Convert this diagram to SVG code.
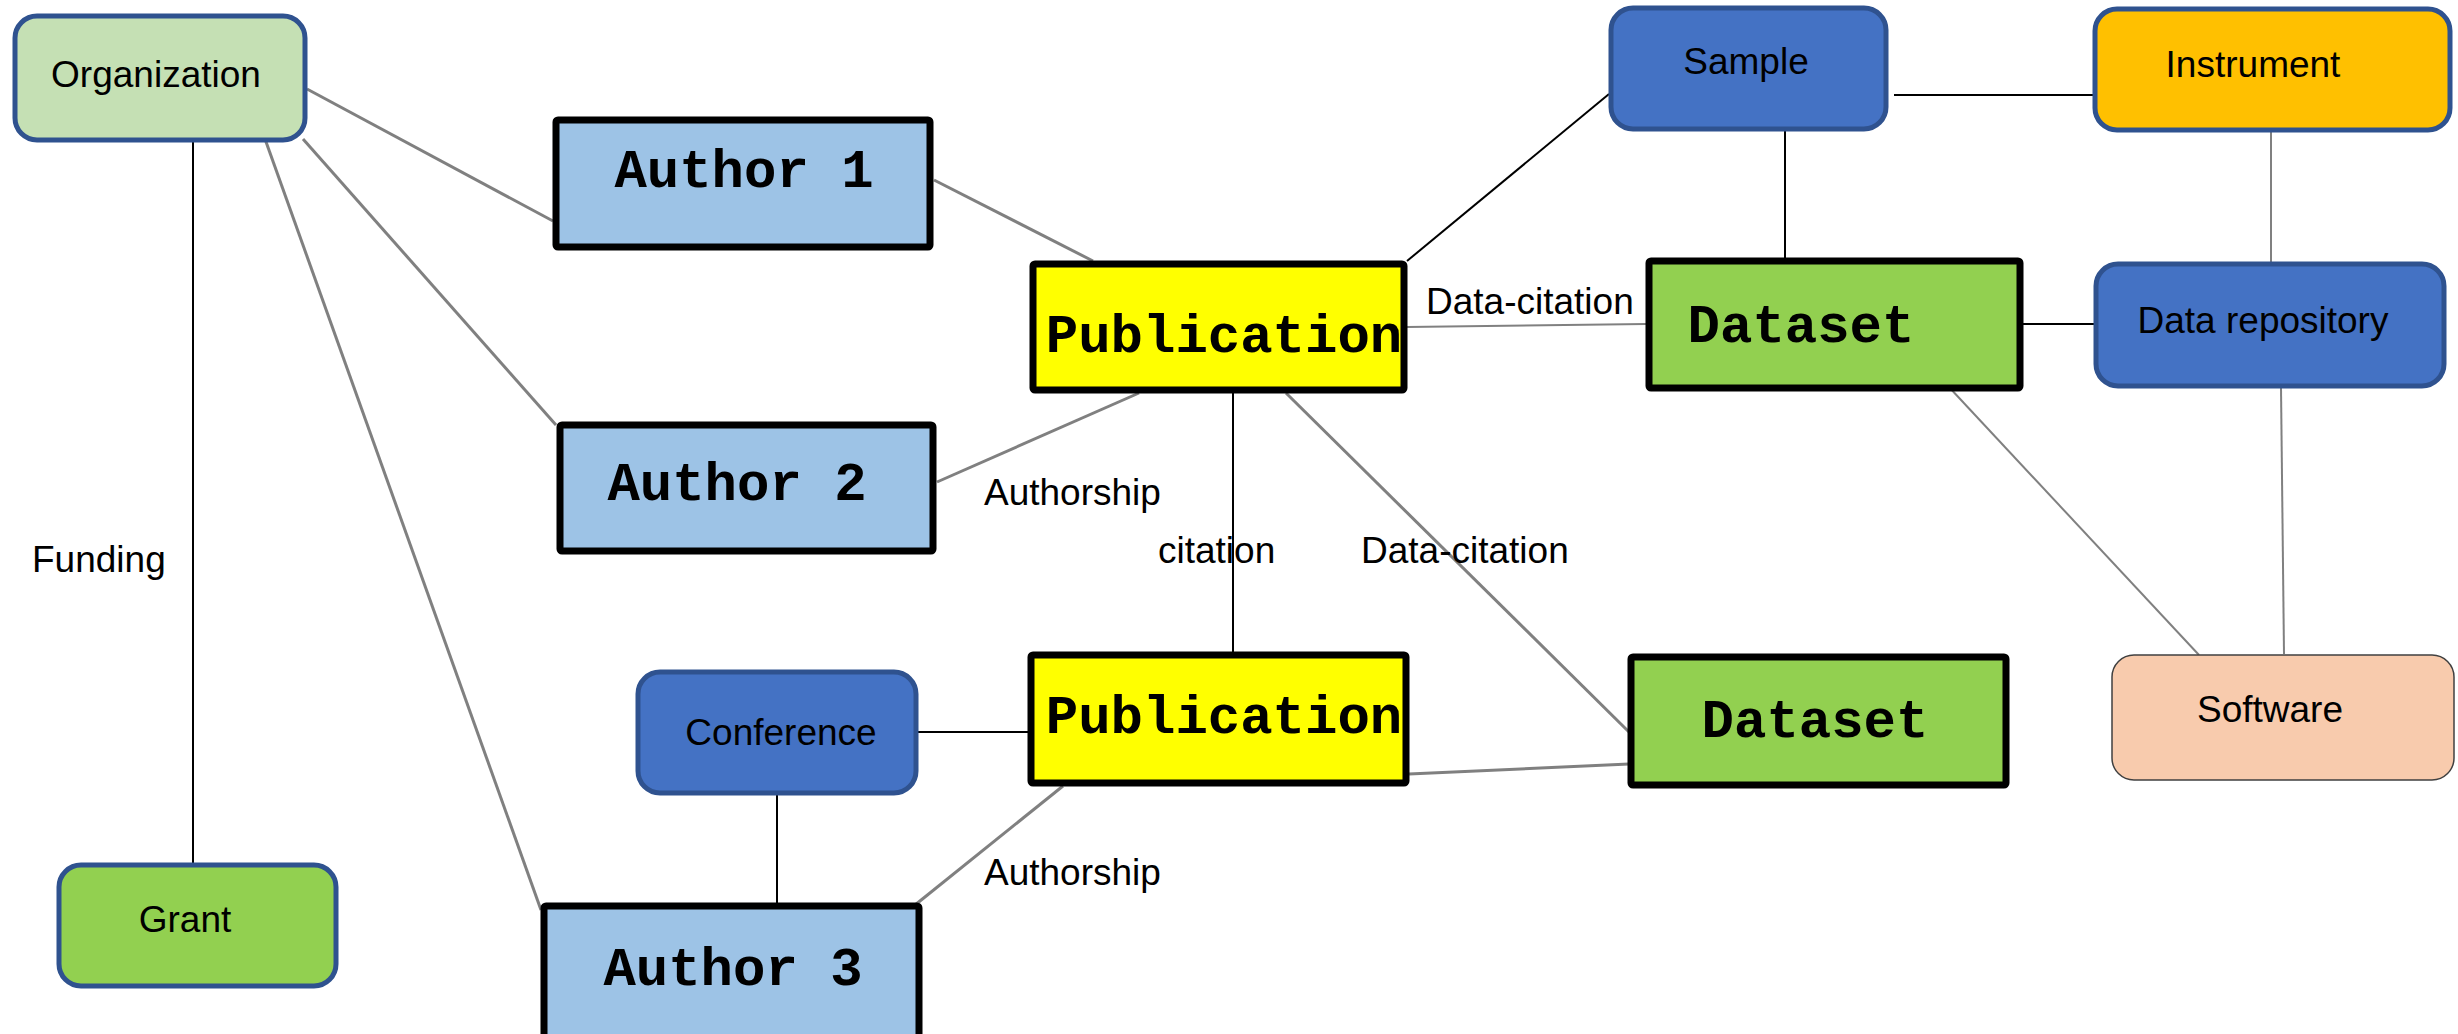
<svg xmlns="http://www.w3.org/2000/svg" width="2458" height="1034" viewBox="0 0 2458 1034">
<style>
.rn{stroke:#2F528F;stroke-width:5}
.bx{stroke:#000;stroke-width:7}
.sans{font-family:"Liberation Sans",Arial,sans-serif;font-size:37px;fill:#000}
.mono{font-family:"Liberation Mono","Courier New",monospace;font-weight:bold;font-size:54px;fill:#000}
.g{stroke:#808080;stroke-width:3;fill:none}
.gt{stroke:#808080;stroke-width:2;fill:none}
.k{stroke:#000;stroke-width:2;fill:none}
</style>
<rect width="2458" height="1034" fill="#fff"/>
<g id="connectors">
<line class="g" x1="307" y1="89" x2="553" y2="221"/>
<line class="g" x1="303" y1="139" x2="556" y2="425"/>
<line class="g" x1="265" y1="139" x2="541" y2="910"/>
<line class="k" x1="193" y1="142" x2="193" y2="863"/>
<line class="g" x1="934" y1="180" x2="1093" y2="261"/>
<line class="g" x1="937" y1="482" x2="1139" y2="393"/>
<line class="k" x1="1407" y1="261" x2="1609" y2="94"/>
<line class="gt" x1="1407" y1="327" x2="1646" y2="324"/>
<line class="k" x1="1894" y1="95" x2="2093" y2="95" stroke-width="3"/>
<line class="k" x1="1785" y1="128" x2="1785" y2="258"/>
<line class="gt" x1="2271" y1="132" x2="2271" y2="262"/>
<line class="k" x1="2023" y1="324" x2="2094" y2="324" stroke-width="3"/>
<line class="gt" x1="1948" y1="386" x2="2199" y2="655"/>
<line class="gt" x1="2281" y1="388" x2="2284" y2="654"/>
<line class="k" x1="1233" y1="393" x2="1233" y2="652"/>
<line class="g" x1="1286" y1="393" x2="1629" y2="732"/>
<line class="g" x1="1409" y1="774" x2="1629" y2="764" stroke-width="4"/>
<line class="k" x1="918" y1="732" x2="1028" y2="732"/>
<line class="k" x1="777" y1="795" x2="777" y2="903"/>
<line class="g" x1="915" y1="905" x2="1063" y2="786"/>
<text class="sans" x="32" y="572">Funding</text>
<text class="sans" x="984" y="505">Authorship</text>
<text class="sans" x="984" y="885">Authorship</text>
<text class="sans" x="1158" y="563">citation</text>
<text class="sans" x="1361" y="563">Data-citation</text>
<text class="sans" x="1426" y="314">Data-citation</text>
</g>
<g id="organization">
<rect class="rn" x="15" y="16" width="290" height="124" rx="22" fill="#C5E0B4"/>
<text class="sans" x="156" y="87" text-anchor="middle">Organization</text>
</g>
<g id="grant">
<rect class="rn" x="59" y="865" width="277" height="121" rx="22" fill="#92D050"/>
<text class="sans" x="185" y="932" text-anchor="middle">Grant</text>
</g>
<g id="author1">
<rect class="bx" x="556" y="120" width="374" height="127" rx="2" fill="#9DC3E6"/>
<text class="mono" x="744" y="187" text-anchor="middle">Author 1</text>
</g>
<g id="author2">
<rect class="bx" x="560" y="425" width="373" height="126" rx="2" fill="#9DC3E6"/>
<text class="mono" x="737" y="500" text-anchor="middle">Author 2</text>
</g>
<g id="author3">
<rect class="bx" x="544" y="906" width="375" height="134" rx="2" fill="#9DC3E6"/>
<text class="mono" x="733" y="985" text-anchor="middle">Author 3</text>
</g>
<g id="conference">
<rect class="rn" x="638" y="672" width="278" height="121" rx="22" fill="#4472C4"/>
<text class="sans" x="781" y="745" text-anchor="middle">Conference</text>
</g>
<g id="publication1">
<rect class="bx" x="1033" y="264" width="371" height="126" rx="2" fill="#FFFF00"/>
<text class="mono" x="1224" y="352" text-anchor="middle">Publication</text>
</g>
<g id="publication2">
<rect class="bx" x="1031" y="655" width="375" height="128" rx="2" fill="#FFFF00"/>
<text class="mono" x="1224" y="733" text-anchor="middle">Publication</text>
</g>
<g id="dataset1">
<rect class="bx" x="1649" y="261" width="371" height="127" rx="2" fill="#92D050"/>
<text class="mono" x="1801" y="342" text-anchor="middle">Dataset</text>
</g>
<g id="dataset2">
<rect class="bx" x="1631" y="657" width="375" height="128" rx="2" fill="#92D050"/>
<text class="mono" x="1815" y="737" text-anchor="middle">Dataset</text>
</g>
<g id="sample">
<rect class="rn" x="1611" y="8" width="275" height="121" rx="22" fill="#4472C4"/>
<text class="sans" x="1746" y="74" text-anchor="middle">Sample</text>
</g>
<g id="instrument">
<rect class="rn" x="2095" y="9" width="355" height="121" rx="22" fill="#FFC000"/>
<text class="sans" x="2253" y="77" text-anchor="middle">Instrument</text>
</g>
<g id="datarepository">
<rect class="rn" x="2096" y="264" width="348" height="122" rx="22" fill="#4472C4"/>
<text class="sans" x="2263" y="333" text-anchor="middle">Data repository</text>
</g>
<g id="software">
<rect x="2112" y="655" width="342" height="125" rx="22" fill="#F8CBAD" stroke="#404040" stroke-width="1.5"/>
<text class="sans" x="2270" y="722" text-anchor="middle">Software</text>
</g>
</svg>
